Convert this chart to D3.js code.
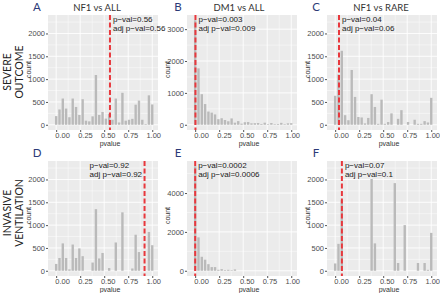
<!DOCTYPE html>
<html>
<head>
<meta charset="utf-8">
<script src="https://cdn.jsdelivr.net/npm/d3@7"></script>
<style>
html, body { margin: 0; padding: 0; background: #fff; }
svg { display: block; }
</style>
</head>
<body>
<div id="container"></div>
<script>
// values: 30-bin histograms of p-values, one per panel
let panelIds = ["A", "B", "C", "D", "E", "F"];
let colTitles = ["NF1 vs ALL", "DM1 vs ALL", "NF1 vs RARE"];
let rowLabels = [["SEVERE", "OUTCOME"], ["INVASIVE", "VENTILATION"]];
let binCount = 30;

let countsA = [190, 335, 575, 355, 165, 575, 390, 215, 560, 90, 75, 185, 1090, 215, 280, 135, 240, 110, 575, 50, 700, 90, 110, 130, 440, 530, 110, 15, 645, 445];
let countsB = [3280, 1770, 960, 650, 415, 380, 325, 175, 205, 150, 110, 200, 65, 115, 35, 80, 85, 45, 50, 55, 25, 65, 20, 55, 20, 25, 60, 20, 45, 50];
let countsC = [635, 1100, 1620, 210, 100, 1200, 610, 170, 160, 30, 150, 670, 390, 20, 550, 20, 60, 250, 0, 130, 320, 0, 60, 0, 110, 20, 20, 80, 50, 590];
let countsD = [150, 280, 600, 280, 30, 575, 280, 490, 320, 0, 0, 180, 1350, 270, 390, 0, 60, 0, 620, 0, 1280, 0, 0, 50, 790, 410, 0, 0, 850, 560];
let countsE = [5380, 1720, 720, 570, 340, 190, 190, 50, 85, 35, 50, 30, 70, 0, 0, 0, 0, 0, 0, 0, 0, 0, 0, 0, 0, 0, 0, 0, 0, 0];
let countsF = [160, 590, 1550, 0, 0, 0, 0, 0, 0, 0, 0, 2010, 600, 0, 0, 0, 0, 0, 1920, 170, 0, 1000, 0, 0, 0, 170, 0, 170, 20, 830];

let pVals = [0.56, 0.003, 0.04, 0.92, 0.0002, 0.07];
let pLabels = ["0.56", "0.003", "0.04", "0.92", "0.0002", "0.07"];
let adjLabels = ["0.56", "0.009", "0.06", "0.92", "0.0006", "0.1"];

let yLimits = [2290, 3280, 2290, 2290, 5380, 2290];
let yTicks = [
  [0, 500, 1000, 1500, 2000],
  [0, 1000, 2000, 3000],
  [0, 500, 1000, 1500, 2000],
  [0, 500, 1000, 1500, 2000],
  [0, 2000, 4000],
  [0, 500, 1000, 1500, 2000]
];
let xTicks = [0, 0.25, 0.5, 0.75, 1];

let allCounts = [countsA, countsB, countsC, countsD, countsE, countsF];
let binCenters = d3.range(binCount).map(i => i / (binCount - 1));

// layout
let w = 440;
let h = 293;
let colLeft = [48, 187, 327];
let rowTop = [15, 161];
let panelW = 110;
let panelH = 115;
let titleX = [97, 239, 381];
let letterX = [37, 178, 316];

let viz = d3.select("#container")
  .append("svg")
    .attr("width", w)
    .attr("height", h)
    .style("font-family", "'Liberation Sans', Arial, sans-serif");

// column titles
viz.selectAll(".colTitle").data(colTitles).enter()
  .append("text")
    .attr("x", (d, i) => titleX[i])
    .attr("y", 10.5)
    .attr("text-anchor", "middle")
    .style("font-family", "Lato, sans-serif")
    .style("font-size", "9.5px")
    .attr("fill", "#333")
    .text(d => d);

// row labels, rotated
rowLabels.forEach(function(lines, r){
  let cy = r == 0 ? 72 : 213;
  lines.forEach(function(t, k){
    viz.append("text")
      .attr("transform", "translate(" + (7.5 + k * 12) + "," + cy + ") rotate(-90)")
      .attr("text-anchor", "middle")
      .attr("dy", "0.35em")
      .style("font-family", "Lato, sans-serif")
      .style("font-size", "10.5px")
      .attr("fill", "#222")
      .text(t);
  });
});

panelIds.forEach(function(id, i){
  let col = i % 3;
  let row = Math.floor(i / 3);
  let L = colLeft[col];
  let T = rowTop[row];
  let counts = allCounts[i];
  let lim = yLimits[i];

  let x = d3.scaleLinear().domain([-0.085, 1.06]).range([L, L + panelW]);
  let y = d3.scaleLinear().domain([-0.05 * lim, 1.05 * lim]).range([T + panelH, T]);

  let g = viz.append("g").classed("panel", true);

  g.append("rect")
    .attr("x", L).attr("y", T)
    .attr("width", panelW).attr("height", panelH)
    .attr("fill", "#ebebeb");

  // minor grid
  let ty = yTicks[i];
  let step = ty[1] - ty[0];
  let yMinor = ty.map(v => v + step / 2).filter(v => v < 1.05 * lim);
  let xMinor = xTicks.slice(1).map(v => v - 0.125);
  g.selectAll(".xminor").data(xMinor).enter().append("line")
    .attr("x1", d => x(d)).attr("x2", d => x(d))
    .attr("y1", T).attr("y2", T + panelH)
    .attr("stroke", "#fff").attr("stroke-width", 0.45);
  g.selectAll(".yminor").data(yMinor).enter().append("line")
    .attr("x1", L).attr("x2", L + panelW)
    .attr("y1", d => y(d)).attr("y2", d => y(d))
    .attr("stroke", "#fff").attr("stroke-width", 0.45);
  // major grid
  g.selectAll(".xmajor").data(xTicks).enter().append("line")
    .attr("x1", d => x(d)).attr("x2", d => x(d))
    .attr("y1", T).attr("y2", T + panelH)
    .attr("stroke", "#fff").attr("stroke-width", 0.9);
  g.selectAll(".ymajor").data(ty).enter().append("line")
    .attr("x1", L).attr("x2", L + panelW)
    .attr("y1", d => y(d)).attr("y2", d => y(d))
    .attr("stroke", "#fff").attr("stroke-width", 0.9);

  // bars
  let bw = (x(binCenters[1]) - x(binCenters[0])) * 0.72;
  let bars = binCenters.map((c, k) => ({p: c, n: counts[k]})).filter(d => d.n > 0);
  g.selectAll("rect.bin").data(bars).enter()
    .append("rect")
      .classed("bin", true)
      .attr("x", d => x(d.p) - bw / 2)
      .attr("y", d => y(d.n))
      .attr("width", bw)
      .attr("height", d => y(0) - y(d.n))
      .attr("fill", "#bababa");

  // dashed p-value line
  let lx = x(pVals[i]);
  g.append("line")
    .attr("x1", lx).attr("x2", lx)
    .attr("y1", T).attr("y2", T + panelH)
    .attr("stroke", "#e8383d")
    .attr("stroke-width", 2)
    .attr("stroke-dasharray", "5,2.5");

  // annotation
  let t1 = g.append("text")
    .attr("y", T + 7)
    .style("font-size", "8px")
    .attr("fill", "#1a1a1a")
    .text("p\u2212val=" + pLabels[i]);
  let t2 = g.append("text")
    .attr("y", T + 15.5)
    .style("font-size", "8px")
    .attr("fill", "#1a1a1a")
    .text("adj p\u2212val=" + adjLabels[i]);
  let tx = lx + 3;
  if (pVals[i] > 0.8) {
    tx = lx - 2.5 - t2.node().getComputedTextLength();
  }
  t1.attr("x", tx);
  t2.attr("x", tx);

  // axes
  let xAxis = d3.axisBottom(x).tickValues(xTicks).tickFormat(d3.format(".2f")).tickSize(2).tickPadding(0.5);
  let xAxisGroup = g.append("g").attr("transform", "translate(0," + (T + panelH) + ")");
  xAxisGroup.call(xAxis);
  xAxisGroup.select(".domain").remove();
  xAxisGroup.selectAll("line").attr("stroke", "#555");
  xAxisGroup.selectAll("text")
    .attr("font-size", 7.5).attr("fill", "#4d4d4d")
    .attr("dx", d => 1 + 5 * (1 - d))
    .style("font-family", "'Liberation Sans', Arial, sans-serif");

  let yAxis = d3.axisLeft(y).tickValues(ty).tickFormat(d3.format("d")).tickSize(2).tickPadding(1);
  let yAxisGroup = g.append("g").attr("transform", "translate(" + L + ",0)");
  yAxisGroup.call(yAxis);
  yAxisGroup.select(".domain").remove();
  yAxisGroup.selectAll("line").attr("stroke", "#555");
  yAxisGroup.selectAll("text").attr("font-size", 7.5).attr("fill", "#4d4d4d")
    .style("font-family", "'Liberation Sans', Arial, sans-serif");

  // axis titles
  g.append("text")
    .attr("x", L + panelW / 2 + 7)
    .attr("y", T + panelH + 15.5)
    .attr("text-anchor", "middle")
    .style("font-size", "7px")
    .attr("fill", "#333")
    .text("pvalue");
  g.append("text")
    .attr("transform", "translate(" + (L - 19) + "," + (T + panelH / 2 - 3) + ") rotate(-90)")
    .attr("text-anchor", "middle")
    .attr("dy", "0.35em")
    .style("font-size", "7px")
    .attr("fill", "#333")
    .text("count");

  // panel letter
  viz.append("text")
    .attr("x", letterX[col])
    .attr("y", row == 0 ? 10.5 : 156.5)
    .attr("text-anchor", "middle")
    .style("font-family", "Lato, sans-serif")
    .style("font-size", "11.5px")
    .attr("fill", "#2c3a78")
    .text(id);
});
</script>
</body>
</html>
